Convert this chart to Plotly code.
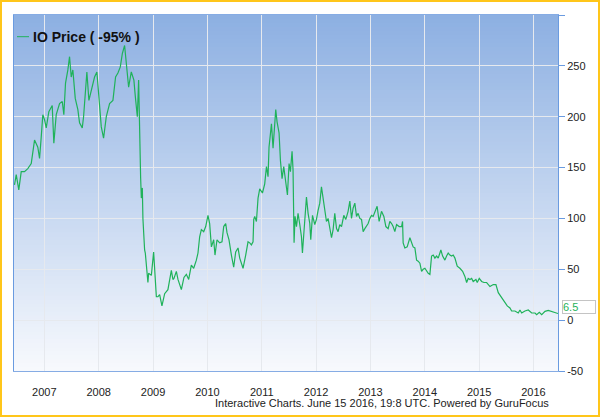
import plotly.graph_objects as go

# ---- data ----
year_frac = [
    2006.451, 2006.483, 2006.530, 2006.575, 2006.635, 2006.696, 2006.759, 2006.801, 2006.820, 2006.880,
    2006.912, 2006.943, 2006.972, 2007.004, 2007.035, 2007.083, 2007.145, 2007.175, 2007.219, 2007.280,
    2007.330, 2007.359, 2007.390, 2007.433, 2007.464, 2007.495, 2007.525, 2007.569, 2007.617, 2007.648,
    2007.698, 2007.722, 2007.759, 2007.783, 2007.820, 2007.864, 2007.924, 2007.967, 2008.004, 2008.048,
    2008.090, 2008.140, 2008.201, 2008.262, 2008.311, 2008.354, 2008.398, 2008.435, 2008.477, 2008.527,
    2008.551, 2008.600, 2008.648, 2008.674, 2008.711, 2008.735, 2008.753, 2008.772, 2008.785, 2008.803,
    2008.814, 2008.832, 2008.845, 2008.858, 2008.888, 2008.906, 2008.919, 2008.969, 2009.011, 2009.042,
    2009.061, 2009.090, 2009.122, 2009.164, 2009.214, 2009.274, 2009.337, 2009.366, 2009.385, 2009.429,
    2009.459, 2009.521, 2009.569, 2009.613, 2009.656, 2009.705, 2009.748, 2009.797, 2009.827, 2009.858,
    2009.889, 2009.932, 2009.969, 2010.011, 2010.042, 2010.074, 2010.116, 2010.140, 2010.177, 2010.226,
    2010.269, 2010.300, 2010.337, 2010.361, 2010.398, 2010.442, 2010.484, 2010.521, 2010.564, 2010.595,
    2010.656, 2010.705, 2010.748, 2010.779, 2010.810, 2010.840, 2010.853, 2010.871, 2010.902, 2010.932,
    2010.963, 2011.013, 2011.055, 2011.087, 2011.116, 2011.134, 2011.160, 2011.179, 2011.208, 2011.239,
    2011.258, 2011.282, 2011.319, 2011.344, 2011.374, 2011.405, 2011.442, 2011.473, 2011.503, 2011.528,
    2011.558, 2011.576, 2011.595, 2011.613, 2011.639, 2011.668, 2011.700, 2011.731, 2011.749, 2011.773,
    2011.792, 2011.823, 2011.853, 2011.884, 2011.902, 2011.934, 2011.976, 2012.007, 2012.037, 2012.068,
    2012.099, 2012.129, 2012.160, 2012.191, 2012.221, 2012.252, 2012.284, 2012.313, 2012.344, 2012.376,
    2012.405, 2012.436, 2012.468, 2012.510, 2012.547, 2012.589, 2012.621, 2012.652, 2012.681, 2012.713,
    2012.744, 2012.773, 2012.805, 2012.836, 2012.866, 2012.897, 2012.928, 2012.958, 2012.989, 2013.020,
    2013.050, 2013.099, 2013.123, 2013.160, 2013.204, 2013.247, 2013.284, 2013.326, 2013.357, 2013.389,
    2013.418, 2013.449, 2013.481, 2013.528, 2013.573, 2013.591, 2013.602, 2013.633, 2013.676, 2013.726,
    2013.757, 2013.786, 2013.818, 2013.849, 2013.878, 2013.910, 2013.941, 2013.970, 2014.002, 2014.033,
    2014.063, 2014.094, 2014.125, 2014.155, 2014.186, 2014.217, 2014.247, 2014.278, 2014.296, 2014.328,
    2014.370, 2014.401, 2014.431, 2014.462, 2014.493, 2014.523, 2014.554, 2014.597, 2014.646, 2014.696,
    2014.738, 2014.770, 2014.799, 2014.831, 2014.862, 2014.891, 2014.941, 2014.965, 2015.002, 2015.046,
    2015.088, 2015.138, 2015.199, 2015.260, 2015.309, 2015.352, 2015.414, 2015.475, 2015.517, 2015.567,
    2015.598, 2015.659, 2015.720, 2015.751, 2015.783, 2015.843, 2015.904, 2015.967, 2016.028, 2016.059,
    2016.107, 2016.151, 2016.212, 2016.272, 2016.335, 2016.396, 2016.451,
]
price = [
    133, 143, 128, 146, 146, 149, 154, 167, 177, 170,
    159, 180, 202, 197, 189, 205, 211, 174, 202, 213,
    215, 202, 233, 246, 259, 239, 246, 218, 207, 194,
    189, 200, 226, 244, 216, 226, 239, 244, 216, 190,
    179, 200, 213, 216, 239, 243, 249, 262, 270, 243,
    229, 244, 236, 220, 200, 236, 177, 140, 120, 130,
    100, 79, 69, 66, 43, 37, 46, 44, 67, 30,
    23, 23, 25, 14, 26, 30, 49, 40, 41, 48,
    40, 30, 42, 45, 40, 54, 51, 59, 66, 82,
    89, 87, 92, 103, 95, 72, 79, 64, 79, 76,
    77, 92, 95, 86, 79, 64, 52, 67, 71, 61,
    51, 64, 77, 76, 74, 77, 99, 102, 97, 120,
    129, 125, 134, 151, 141, 170, 189, 193, 169, 192,
    207, 195, 184, 157, 139, 151, 133, 123, 154, 146,
    166, 148, 76, 102, 92, 105, 94, 82, 66, 86,
    99, 121, 105, 95, 79, 103, 94, 99, 108, 115,
    131, 118, 105, 97, 100, 92, 81, 89, 105, 90,
    87, 94, 92, 103, 99, 107, 117, 100, 110, 115,
    102, 105, 100, 99, 87, 90, 92, 95, 100, 103,
    102, 110, 112, 97, 107, 102, 92, 90, 97, 95,
    92, 87, 94, 92, 92, 97, 76, 71, 72, 81,
    76, 72, 71, 59, 58, 56, 48, 50, 51, 48,
    46, 45, 63, 64, 61, 63, 61, 66, 69, 63,
    59, 63, 66, 64, 63, 64, 61, 53, 51, 48,
    43, 37, 41, 40, 41, 38, 40, 37, 41, 38,
    37, 37, 33, 35, 35, 27, 22, 18, 14, 12,
    9, 9, 7, 10, 7, 9, 10, 7, 7, 5.4,
    7.6, 5.4, 8.6, 9.6, 8.6, 7.6, 6.5,
]
year_ticks = [2007, 2008, 2009, 2010, 2011, 2012, 2013, 2014, 2015, 2016]
year_labels = [str(y) for y in year_ticks]
price_ticks = [-50, 0, 50, 100, 150, 200, 250, 300]
price_labels = ["-50", "0", "50", "100", "150", "200", "250", ""]
series_name = "IO Price ( -95% )"
last_value_label = "6.5"
footer_text = "Interactive Charts. June 15 2016, 19:8 UTC. Powered by GuruFocus"

# ---- layout geometry ----
W, H = 600, 417
ML, MR, MT, MB = 14, 42, 15, 46
PW, PH = W - ML - MR, H - MT - MB

def px_x(p):
    return (p - ML) / PW

def px_y(p):
    return (H - MB - p) / PH

GREEN = "#1fb25a"
FONT = "Liberation Sans, Arial, sans-serif"

fig = go.Figure()
fig.add_trace(go.Scatter(
    x=year_frac, y=price, mode="lines", name=series_name,
    line=dict(color=GREEN, width=1.2), showlegend=False,
))

shapes = []
# vertical gradient background (blue at top to near-white at bottom);
# bands overlap slightly so no seams show
top_c = (141, 176, 226)
bot_c = (247, 249, 253)
n = 90
for i in range(n):
    t = i / (n - 1)
    c = tuple(round(top_c[k] + (bot_c[k] - top_c[k]) * t) for k in range(3))
    shapes.append(dict(
        type="rect", xref="paper", yref="paper", layer="below",
        x0=0, x1=1, y0=max(0, 1 - (i + 1) / n - 1.5 / n), y1=1 - i / n,
        fillcolor="rgb(%d,%d,%d)" % c, line=dict(width=0),
    ))
# legend line sample
shapes.append(dict(type="line", xref="paper", yref="paper",
                   x0=px_x(17), x1=px_x(29), y0=px_y(36.7), y1=px_y(36.7),
                   line=dict(color=GREEN, width=1)))
# outer golden frame
shapes.append(dict(type="rect", xref="paper", yref="paper", layer="above",
                   x0=px_x(1), x1=px_x(599), y0=px_y(416), y1=px_y(1),
                   line=dict(color="#FFC61A", width=2), fillcolor="rgba(0,0,0,0)"))

annotations = [
    dict(xref="paper", yref="paper", x=px_x(31), y=px_y(36.7), xanchor="left", yanchor="middle",
         text="<b>%s</b>" % series_name, showarrow=False,
         font=dict(family=FONT, size=14, color="#111")),
    dict(xref="paper", yref="paper", x=px_x(551), y=px_y(403), xanchor="right", yanchor="middle",
         text=footer_text, showarrow=False,
         font=dict(family=FONT, size=11, color="#222")),
    dict(xref="paper", yref="y", x=1, y=price[-1], xanchor="left", yanchor="middle",
         xshift=4, yshift=7,
         text=last_value_label, showarrow=False, align="left", width=32,
         bgcolor="white", bordercolor="#C4C4C4", borderwidth=1, borderpad=0,
         font=dict(family=FONT, size=11, color=GREEN)),
]

fig.update_layout(
    width=W, height=H,
    margin=dict(l=ML, r=MR, t=MT, b=MB),
    paper_bgcolor="white", plot_bgcolor="white",
    shapes=shapes, annotations=annotations,
    showlegend=False,
    xaxis=dict(
        range=[2006.442, 2016.451], tickvals=year_ticks, ticktext=year_labels,
        showgrid=True, gridcolor="#E6E9EE", gridwidth=1, zeroline=False,
        showline=True, linecolor="#86ACE4", linewidth=1, mirror=True,
        ticks="outside", ticklen=11, tickcolor="rgba(0,0,0,0)",
        tickfont=dict(family=FONT, size=11, color="#222"),
    ),
    yaxis=dict(
        side="right", range=[-50, 300], tickvals=price_ticks, ticktext=price_labels,
        showgrid=True, gridcolor="#E6E9EE", gridwidth=1, zeroline=False,
        showline=True, linecolor="#6A9BE0", linewidth=1, mirror=True,
        ticks="outside", ticklen=6, tickcolor="#6A9BE0",
        tickfont=dict(family=FONT, size=11, color="#222"),
    ),
)

fig.write_html("out.html")
